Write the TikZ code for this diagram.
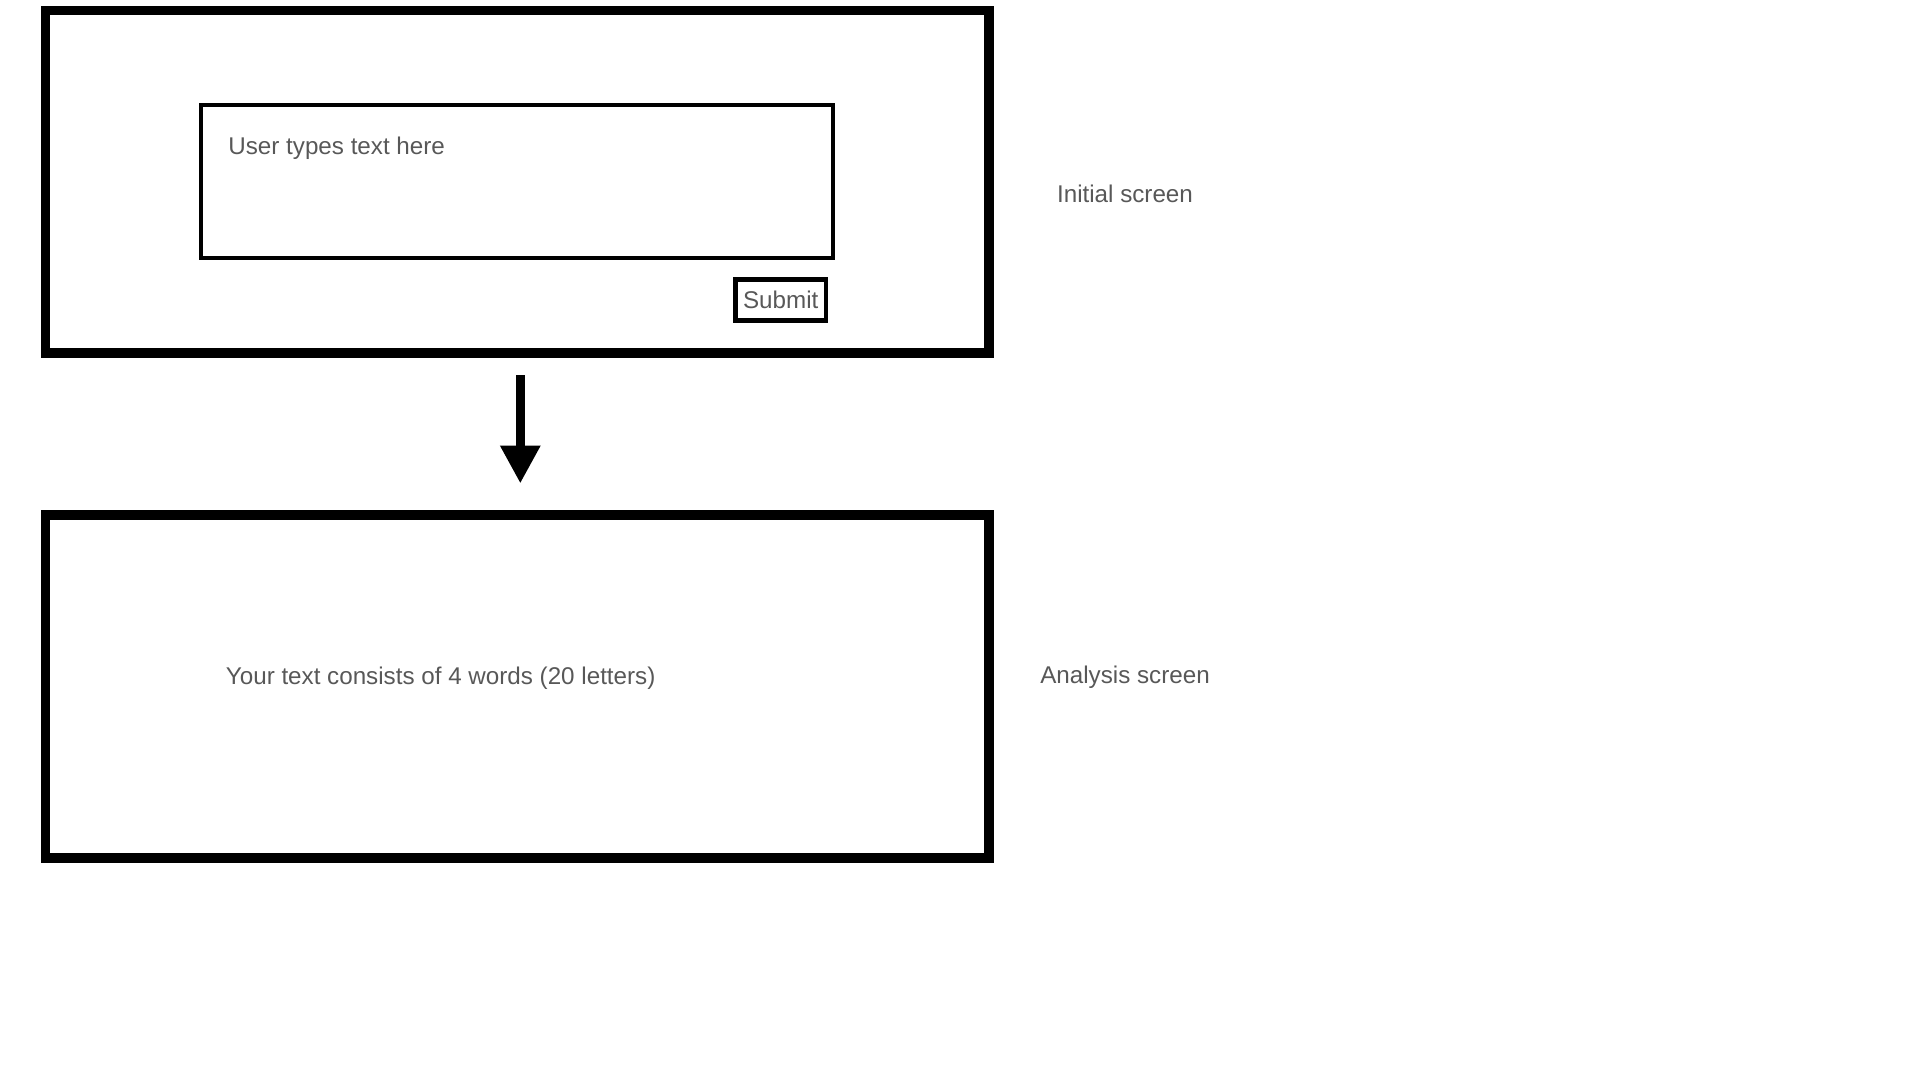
\documentclass[tikz,border=0pt]{standalone}
\usepackage{fontspec}
\setmainfont{Liberation Sans}
\usetikzlibrary{arrows.meta}
\definecolor{txtgray}{RGB}{88,88,88}
\tikzset{
  screenbox/.style={draw=black, line width=4.75pt, inner sep=0pt, outer sep=0pt},
  inputbox/.style={draw=black, line width=2.15pt, inner sep=0pt, outer sep=0pt},
  buttonbox/.style={draw=black, line width=2.25pt, inner sep=0pt, outer sep=0pt},
  lbl/.style={text=txtgray, font=\fontsize{12.1pt}{14pt}\selectfont, inner sep=0pt},
  flowarrow/.style={line width=4.65pt, -{Triangle[length=19pt, width=19pt]}}
}
\begin{document}
\begin{tikzpicture}[x=0.5pt, y=-0.5pt]
\useasboundingbox (0,0) rectangle (1920,1080);
% screens
\node[screenbox, minimum width=471.75pt, minimum height=171.35pt] (initial) at (517.25,181.65) {};
\node[screenbox, minimum width=471.75pt, minimum height=171.5pt] (analysis) at (517.25,686.5) {};
% input field
\node[inputbox, minimum width=316pt, minimum height=76.65pt] (input) at (517,181.65) {};
\node[lbl, anchor=base west] (inputtxt) at (228,154.5) {User types text here};
% submit button
\node[buttonbox, minimum width=45.25pt, minimum height=20.5pt] (submit) at (780.75,300) {};
\node[lbl, anchor=base] (submittxt) at (780.75,309) {Submit};
% result text
\node[lbl, anchor=base west] (result) at (225.5,684) {Your text consists of 4 words (20 letters)};
% side labels
\node[lbl, anchor=base] (initlbl) at (1125,202.5) {Initial screen};
\node[lbl, anchor=base] (analbl) at (1125,683) {Analysis screen};
% arrow
\coordinate (arrstart) at (520.3,375);
\coordinate (arrend) at (520.3,483.5);
\draw[flowarrow] (arrstart) -- (arrend);
\end{tikzpicture}
\end{document}
